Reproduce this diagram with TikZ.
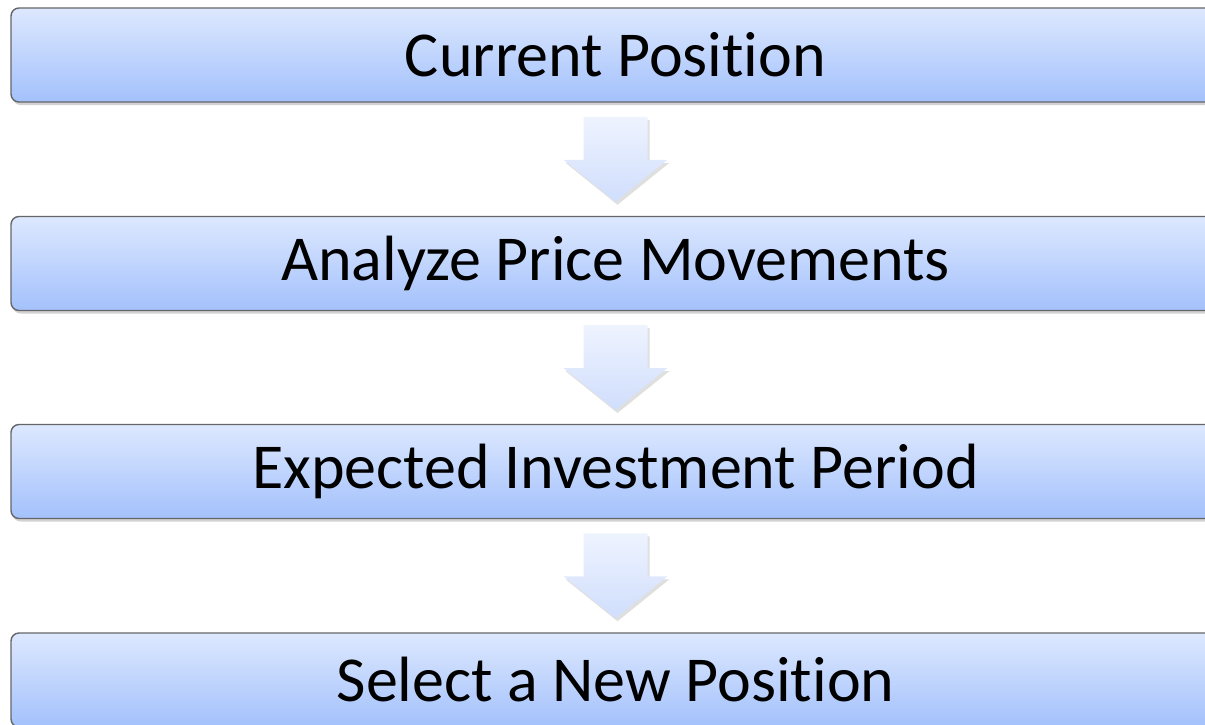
\documentclass[tikz,border=0pt]{standalone}
\usepackage{fontspec}
\setmainfont[RawFeature={-liga;-dlig;-calt;-clig}]{Carlito}
\usetikzlibrary{shadows,calc}
\definecolor{boxtop}{HTML}{DDE8FE}
\definecolor{boxbot}{HTML}{A3C1FC}
\definecolor{arrtop}{HTML}{EEF3FE}
\definecolor{arrbot}{HTML}{D0DEFD}
\definecolor{boxline}{HTML}{66666A}
\tikzset{
  stepbox/.style={draw=boxline, line width=1.4pt, rounded corners=8pt,
    top color=boxtop, bottom color=boxbot,
    drop shadow={opacity=0.35, shadow xshift=1.5pt, shadow yshift=-3pt},
    minimum width=1209pt, minimum height=94pt, inner sep=0pt,
    font=\fontsize{64}{76}\selectfont, text=black},
  blockarrow/.style={top color=arrtop, bottom color=arrbot, draw=none,
    drop shadow={opacity=0.25, shadow xshift=2pt, shadow yshift=-3pt}}
}
\begin{document}
\begin{tikzpicture}[x=1pt,y=-1pt]
\useasboundingbox (0,0) rectangle (1205,724);
\clip (0,0) rectangle (1205,724);
\fill[white] (0,0) rectangle (1205,724);
\node[stepbox] (b1) at (615.5,55) {Current Position};
\node[stepbox] (b2) at (615.5,263.5) {Analyze Price Movements};
\node[stepbox] (b3) at (615.5,471.5) {Expected Investment Period};
\node[stepbox] (b4) at (615.5,680) {Select a New Position};
\foreach \a/\b/\n in {b1/b2/a1, b2/b3/a2, b3/b4/a3}{
  \coordinate (\n) at ($(\a.south)!0.5!(\b.north)$);
  \path[blockarrow] ($(\n)+(-32,-42.5)$) -- ++(64,0) -- ++(0,43) -- ++(20,0)
     -- ($(\n)+(0,42.5)$) -- ($(\n)+(-52,0.5)$) -- ++(20,0) -- cycle;
}
\end{tikzpicture}
\end{document}
